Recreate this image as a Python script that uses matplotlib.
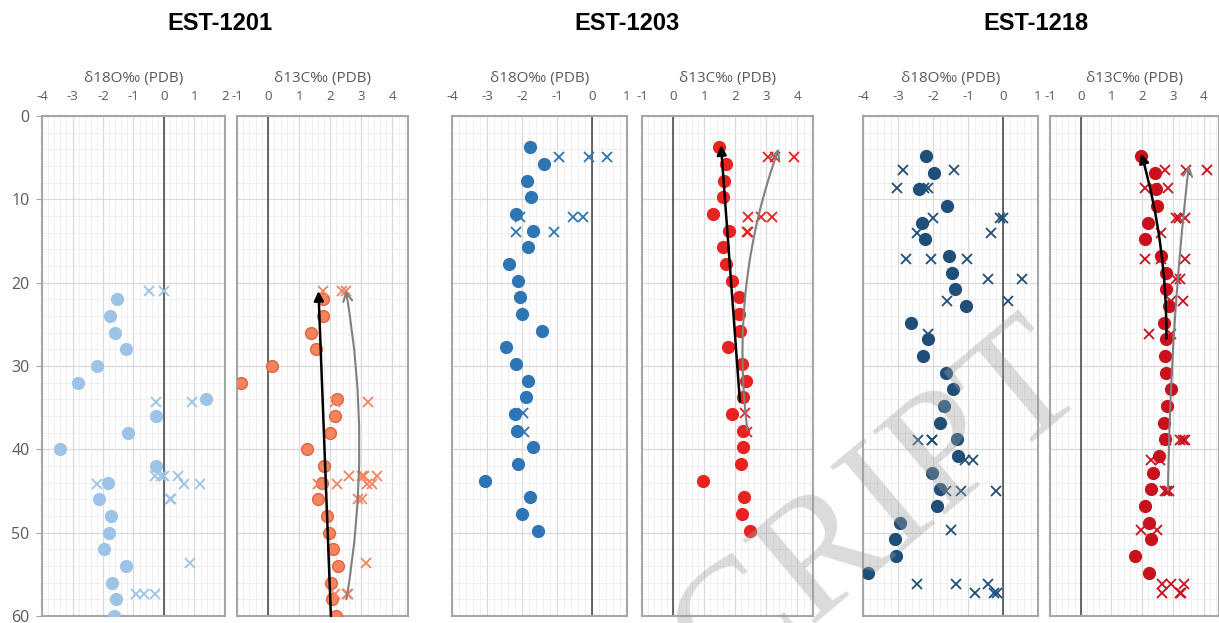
import numpy as np
import matplotlib.pyplot as plt
from matplotlib.ticker import MultipleLocator

plt.rcParams['font.family'] = ['Open Sans', 'DejaVu Sans']
plt.rcParams['axes.unicode_minus'] = False

# ---- EST-1201 ----
depth_1201 = [22, 24, 26, 28, 30, 32, 34, 36, 38, 40, 42, 44, 46, 48, 50, 52, 54, 56, 58, 60]
d18o_1201 = [-1.53, -1.78, -1.6, -1.25, -2.2, -2.83, 1.37, -0.25, -1.17, -3.42,
             -0.27, -1.83, -2.13, -1.75, -1.8, -1.98, -1.24, -1.72, -1.57, -1.63]
d13c_1201 = [1.78, 1.76, 1.39, 1.55, 0.14, -0.87, 2.21, 2.15, 1.98, 1.24,
             1.79, 1.75, 1.59, 1.9, 1.96, 2.09, 2.24, 2.02, 2.05, 2.17]
xo_depth_1201 = [21, 21, 34.3, 34.3, 43.2, 43.2, 43.2, 43.2, 44.2, 44.2, 44.2, 46, 46, 53.6, 57.4, 57.4, 57.4]
xo_val_1201 = [-0.48, 0.0, -0.27, 0.91, -0.3, -0.1, 0.01, 0.47, -2.19, 0.65, 1.19, 0.2, 0.23, 0.84, -0.92, -0.65, -0.3]
xc_depth_1201 = [21, 21, 21, 34.3, 34.3, 43.2, 43.2, 43.2, 43.2, 44.2, 44.2, 44.2, 44.2, 46, 46, 53.6, 57.4, 57.4, 57.4]
xc_val_1201 = [1.78, 2.39, 2.5, 2.15, 3.22, 2.61, 3.01, 3.08, 3.51, 1.59, 2.23, 3.19, 3.35, 2.9, 3.01, 3.14, 2.15, 2.53, 2.58]

# ---- EST-1203 ----
depth_1203 = [3.75 + 2 * i for i in range(24)]
d18o_1203 = [-1.77, -1.36, -1.87, -1.74, -2.16, -1.7, -1.82, -2.36, -2.12, -2.07, -1.99, -1.43,
             -2.45, -2.16, -1.84, -1.89, -2.21, -2.13, -1.68, -2.12, -3.06, -1.77, -2.01, -1.53]
d13c_1203 = [1.48, 1.7, 1.64, 1.61, 1.29, 1.8, 1.6, 1.7, 1.89, 2.12, 2.12, 2.15,
             1.76, 2.21, 2.36, 2.25, 1.9, 2.24, 2.24, 2.18, 0.97, 2.28, 2.21, 2.47]
xo_depth_1203 = [4.9, 4.9, 4.9, 12.1, 12.1, 12.1, 13.9, 13.9, 35.6, 37.9]
xo_val_1203 = [-0.94, -0.1, 0.42, -2.06, -0.55, -0.25, -2.17, -1.09, -1.98, -1.93]
xc_depth_1203 = [4.9, 4.9, 4.9, 12.1, 12.1, 12.1, 13.9, 13.9, 35.6, 37.9]
xc_val_1203 = [3.06, 3.27, 3.9, 2.41, 2.84, 3.17, 2.39, 2.4, 2.3, 2.37]

# ---- EST-1218 ----
depth_1218 = [4.8 + 2 * i for i in range(26)]
d18o_1218 = [-2.2, -1.97, -2.39, -1.59, -2.31, -2.24, -1.53, -1.46, -1.36, -1.07, -2.63, -2.14, -2.3,
             -1.63, -1.42, -1.69, -1.81, -1.32, -1.29, -2.04, -1.81, -1.9, -2.94, -3.08, -3.06, -3.85]
d13c_1218 = [1.97, 2.43, 2.44, 2.48, 2.19, 2.08, 2.62, 2.76, 2.76, 2.87, 2.7, 2.79, 2.74,
             2.79, 2.95, 2.82, 2.71, 2.73, 2.54, 2.36, 2.3, 2.08, 2.22, 2.28, 1.77, 2.22]
xo_depth_1218 = [6.5, 6.5, 8.6, 8.6, 8.6, 12.2, 12.2, 12.2, 14.1, 14.1, 17.2, 17.2, 17.2, 19.6, 19.6,
                 22.2, 22.2, 26.1, 38.9, 38.9, 38.9, 41.3, 41.3, 45, 45, 45, 49.7,
                 56.2, 56.2, 56.2, 57.2, 57.2, 57.2]
xo_val_1218 = [-2.87, -1.41, -3.04, -2.25, -2.15, -2.01, -0.09, -0.01, -2.46, -0.35, -2.78, -2.05, -1.02,
               -0.42, 0.55, -1.61, 0.13, -2.15, -2.43, -2.04, -2.02, -1.09, -0.87, -1.64, -1.21, -0.2,
               -1.5, -2.47, -1.33, -0.44, -0.81, -0.25, -0.18]
xc_depth_1218 = [6.5, 6.5, 6.5, 8.6, 8.6, 8.6, 12.2, 12.2, 12.2, 14.1, 17.2, 17.2, 17.2, 19.6, 19.6,
                 22.2, 22.2, 26.1, 26.1, 38.9, 38.9, 38.9, 38.9, 41.3, 41.3, 45, 45, 45,
                 49.7, 49.7, 56.2, 56.2, 56.2, 57.2, 57.2, 57.2]
xc_val_1218 = [2.75, 3.44, 4.1, 2.09, 2.4, 2.84, 3.09, 3.2, 3.4, 2.62, 2.08, 2.62, 3.38, 3.09, 3.24,
               2.95, 3.33, 2.22, 2.95, 2.79, 3.24, 3.33, 3.38, 2.3, 2.59, 2.73, 2.82, 2.87,
               1.97, 2.49, 2.66, 2.93, 3.36, 2.66, 3.22, 3.27]

# trend arrows on the d13C panels: (x0, y0, x1, y1, curvature)
black_arrows = [(2.02, 60, 1.62, 21, 0.0), (2.15, 34.3, 1.54, 3.5, 0.0), (2.79, 26.7, 1.97, 4.5, 0.07)]
gray_arrows = [(2.52, 58, 2.5, 20.9, 0.085), (2.39, 37.7, 3.4, 3.9, -0.12), (2.84, 44.9, 3.52, 5.9, -0.025)]

titles = ['EST-1201', 'EST-1203', 'EST-1218']
o_colors = ['#9DC3E6', '#2E75B6', '#1F4E79']
c_colors = ['#F4845F', '#E8231F', '#C9111E']
c_edges = ['#E0643C', '#E8231F', '#C9111E']

# panel pixel spans (left, right) and x ranges
W, H = 1219, 623
top_px, bot_px = 116, 616
o_spans = [(42, 225), (452, 627), (863, 1038)]
c_spans = [(237, 408), (642, 813), (1050, 1219)]
o_lims = [(-4, 2), (-4, 1), (-4, 1)]

groups = [
    (depth_1201, d18o_1201, d13c_1201, xo_depth_1201, xo_val_1201, xc_depth_1201, xc_val_1201),
    (depth_1203, d18o_1203, d13c_1203, xo_depth_1203, xo_val_1203, xc_depth_1203, xc_val_1203),
    (depth_1218, d18o_1218, d13c_1218, xo_depth_1218, xo_val_1218, xc_depth_1218, xc_val_1218),
]

fig = plt.figure(figsize=(W / 100, H / 100), dpi=100)
txt = '#595959'


def style_axis(ax, xlim, label, show_y):
    ax.set_xlim(*xlim)
    ax.set_ylim(60, 0)
    ax.xaxis.tick_top()
    ax.xaxis.set_label_position('top')
    ax.set_xticks(np.arange(xlim[0], int(xlim[1]) + 1, 1))
    ax.xaxis.set_minor_locator(MultipleLocator(0.2))
    ax.yaxis.set_major_locator(MultipleLocator(10))
    ax.yaxis.set_minor_locator(MultipleLocator(2))
    ax.grid(which='major', color='#d9d9d9', lw=0.9, zorder=0)
    ax.grid(which='minor', color='#eeeeee', lw=0.6, zorder=0)
    ax.set_axisbelow(True)
    ax.tick_params(axis='x', which='both', length=0, pad=9, labelsize=9.5, colors=txt)
    if show_y:
        ax.tick_params(axis='y', which='major', length=4, color='#a6a6a6', labelsize=11.5, colors=txt, pad=5)
        ax.tick_params(axis='y', which='minor', length=0)
    else:
        ax.tick_params(axis='y', which='both', length=0, labelleft=False)
    for s in ax.spines.values():
        s.set_color('#a6a6a6')
        s.set_linewidth(1.5)
    ax.axvline(0, color='#404040', lw=1.1, zorder=1)
    ax.set_xlabel(label, fontsize=11, color=txt, labelpad=6)


for g, (dep, o, c, xod, xov, xcd, xcv) in enumerate(groups):
    l, r = o_spans[g]
    axo = fig.add_axes([l / W, 1 - bot_px / H, (r - l) / W, (bot_px - top_px) / H])
    style_axis(axo, o_lims[g], 'δ18O‰ (PDB)', g == 0)
    axo.plot(o, dep, 'o', ms=8.5, color=o_colors[g], mec=o_colors[g], zorder=3)
    axo.plot(xov, xod, 'x', ms=7.5, mew=1.3, color=o_colors[g], zorder=3)

    l, r = c_spans[g]
    axc = fig.add_axes([l / W, 1 - bot_px / H, (r - l) / W, (bot_px - top_px) / H])
    style_axis(axc, (-1, 4.5), 'δ13C‰ (PDB)', False)
    axc.plot(c, dep, 'o', ms=8.5, color=c_colors[g], mec=c_edges[g], zorder=3)
    axc.plot(xcv, xcd, 'x', ms=7.5, mew=1.3, color=c_colors[g], zorder=3)

    x0, y0, x1, y1, rad = gray_arrows[g]
    axc.annotate('', xy=(x1, y1), xytext=(x0, y0),
                 arrowprops=dict(arrowstyle='->', color='#808080', lw=1.5, mutation_scale=16,
                                 shrinkA=0, shrinkB=0, connectionstyle=f'arc3,rad={rad}'), zorder=4)
    x0, y0, x1, y1, rad = black_arrows[g]
    axc.annotate('', xy=(x1, y1), xytext=(x0, y0),
                 arrowprops=dict(arrowstyle='-|>', color='black', lw=1.8, mutation_scale=14,
                                 shrinkA=0, shrinkB=0, connectionstyle=f'arc3,rad={rad}'), zorder=5)

    cx = (o_spans[g][0] + c_spans[g][1]) / 2 - 5
    fig.text(cx / W, 1 - 24 / H, titles[g], ha='center', va='center', fontsize=17,
             fontweight='bold', family=['Liberation Sans', 'DejaVu Sans'], color='black')

# faint watermark of the source manuscript
fig.text(1092 / W, 1 - 392 / H, 'ACCEPTED MANUSCRIPT', rotation=40, rotation_mode='anchor',
         ha='right', va='baseline', fontsize=122, family=['Liberation Serif', 'DejaVu Serif'],
         color='#a0a0a0', alpha=0.38, zorder=10)

fig.savefig('out.png', dpi=100)
